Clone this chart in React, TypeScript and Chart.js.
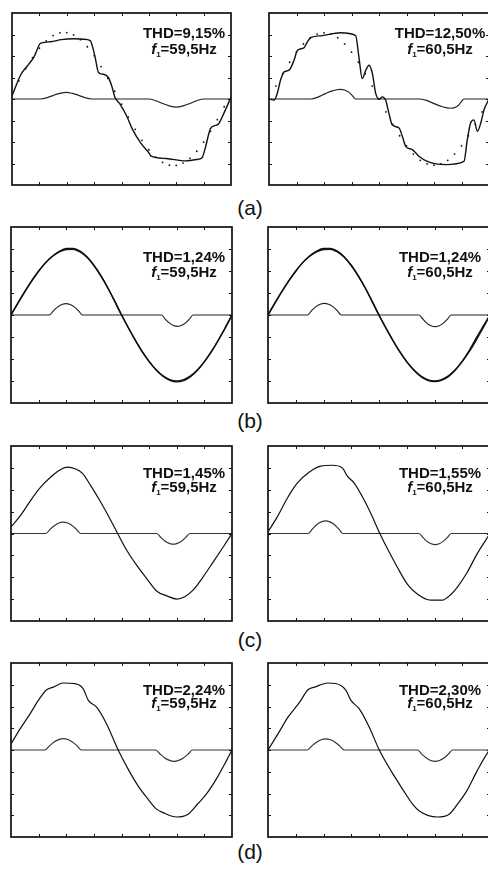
import React, { useEffect, useRef } from "react";
import { Chart, registerables } from "chart.js";
Chart.register(...registerables);

// ---------- data ----------
const X_GRID = [0, 0.25, 0.5, 0.75, 1, 1.25, 1.5, 1.75, 2, 2.25, 2.5, 2.75, 3, 3.25, 3.5, 3.75, 4, 4.25, 4.5, 4.75, 5, 5.25, 5.5, 5.75, 6, 6.25, 6.5, 6.75, 7, 7.25, 7.5, 7.75, 8];
const X_TICKS = [1, 2, 3, 4, 5, 6, 7];
const Y_TICKS = [-3, -2, -1, 0, 1, 2, 3];

const ROW_LABELS = ["(a)", "(b)", "(c)", "(d)"];
const THD_TEXT = ["THD=9,15%", "THD=12,50%", "THD=1,24%", "THD=1,24%", "THD=1,45%", "THD=1,55%", "THD=2,24%", "THD=2,30%"];
const FREQ_TEXT = ["=59,5Hz", "=60,5Hz", "=59,5Hz", "=60,5Hz", "=59,5Hz", "=60,5Hz", "=59,5Hz", "=60,5Hz"];

// (a) reference (dotted)
const A_LEFT_REF_Y = [0.24, 0.84, 1.41, 1.92, 2.36, 2.7, 2.95, 3.08, 3.09, 2.98, 2.76, 2.43, 2.01, 1.51, 0.96, 0.36, -0.24, -0.84, -1.41, -1.92, -2.36, -2.7, -2.95, -3.08, -3.09, -2.98, -2.76, -2.43, -2.01, -1.51, -0.96, -0.36, 0.24];
const A_RIGHT_REF_Y = [0, 0.6, 1.18, 1.71, 2.18, 2.56, 2.85, 3.02, 3.08, 3.02, 2.85, 2.56, 2.18, 1.71, 1.18, 0.6, 0, -0.6, -1.18, -1.71, -2.18, -2.56, -2.85, -3.02, -3.08, -3.02, -2.85, -2.56, -2.18, -1.71, -1.18, -0.6, 0];
// (a) measured
const A_LEFT_MEAS_X = [0, 0.33, 0.6, 0.8, 1.05, 1.41, 1.8, 2.25, 2.6, 2.86, 2.95, 3.04, 3.16, 3.34, 3.52, 3.64, 3.76, 3.94, 4.18, 4.42, 4.72, 5.02, 5.08, 5.63, 6.35, 6.8, 6.95, 7.07, 7.25, 7.43, 7.55, 7.73, 8];
const A_LEFT_MEAS_Y = [0.15, 1.15, 1.6, 1.95, 2.6, 2.66, 2.76, 2.8, 2.78, 2.72, 2.4, 1.92, 1.23, 1.15, 1.0, 0.62, 0.08, -0.23, -0.77, -1.46, -2.08, -2.54, -2.66, -2.77, -2.88, -2.8, -2.72, -2.23, -1.38, -1.23, -1.15, -0.69, 0.08];
const A_RIGHT_MEAS_X = [0, 0.18, 0.3, 0.42, 0.55, 0.73, 0.91, 1.03, 1.27, 1.39, 1.52, 1.94, 2.6, 3.15, 3.27, 3.39, 3.52, 3.64, 3.76, 3.88, 4.0, 4.12, 4.24, 4.36, 4.48, 4.73, 4.85, 4.97, 5.21, 5.45, 5.76, 6.42, 7.09, 7.21, 7.33, 7.45, 7.58, 7.7, 7.82, 8];
const A_RIGHT_MEAS_Y = [0, -0.05, 0.26, 0.88, 1.26, 1.34, 1.8, 2.26, 2.38, 2.65, 2.85, 2.95, 3.08, 2.95, 1.95, 0.95, 1.34, 1.57, 1.18, 0.26, 0, 0.1, -0.05, -0.66, -1.2, -1.35, -1.74, -2.2, -2.35, -2.66, -2.9, -3.05, -2.9, -1.9, -1.12, -0.97, -1.5, -1.12, -0.5, 0];

// (b)
const B_REF_Y = [0, 0.55, 1.07, 1.56, 2.0, 2.38, 2.67, 2.87, 2.98, 2.99, 2.87, 2.62, 2.25, 1.78, 1.24, 0.63, 0, -0.59, -1.15, -1.67, -2.12, -2.49, -2.77, -2.94, -3.0, -2.94, -2.77, -2.49, -2.12, -1.67, -1.15, -0.59, 0];
const B_LEFT_MEAS_Y = [0, 0.53, 1.05, 1.54, 1.98, 2.37, 2.67, 2.89, 3.02, 3.03, 2.91, 2.65, 2.27, 1.8, 1.25, 0.64, 0.01, -0.58, -1.14, -1.66, -2.11, -2.49, -2.78, -2.97, -3.04, -2.98, -2.8, -2.51, -2.13, -1.68, -1.16, -0.6, 0];
const B_RIGHT_MEAS_Y = [0, 0.54, 1.06, 1.55, 1.99, 2.38, 2.68, 2.9, 3.02, 3.02, 2.9, 2.64, 2.26, 1.79, 1.24, 0.62, -0.01, -0.6, -1.16, -1.68, -2.13, -2.5, -2.79, -2.97, -3.03, -2.97, -2.8, -2.5, -2.1, -1.62, -1.05, -0.52, 0];

// (c)
const C_LEFT_MEAS_X = [0, 0.36, 0.72, 1.08, 1.44, 1.74, 2.04, 2.34, 2.58, 2.88, 3.24, 3.6, 3.86, 4.2, 4.56, 4.92, 5.28, 5.64, 6.0, 6.29, 6.59, 6.95, 7.31, 7.67, 8];
const C_LEFT_MEAS_Y = [0.3, 0.85, 1.53, 2.13, 2.58, 2.88, 3.03, 2.95, 2.76, 2.2, 1.45, 0.63, 0, -0.79, -1.47, -2.07, -2.64, -2.85, -3.0, -2.89, -2.59, -1.99, -1.32, -0.64, 0];
const C_RIGHT_MEAS_X = [0, 0.34, 0.7, 1.06, 1.48, 1.9, 2.32, 2.68, 2.86, 3.1, 3.46, 3.76, 4.0, 4.3, 4.66, 5.02, 5.38, 5.86, 6.28, 6.58, 6.82, 7.18, 7.54, 8];
const C_RIGHT_MEAS_Y = [0.08, 0.77, 1.62, 2.31, 2.8, 3.08, 3.12, 3.0, 2.62, 2.31, 1.54, 0.77, 0.08, -0.69, -1.54, -2.31, -2.77, -3.05, -3.05, -2.8, -2.46, -1.77, -0.92, 0];

// (d)
const D_LEFT_MEAS_X = [0, 0.33, 0.69, 0.99, 1.29, 1.53, 1.89, 2.31, 2.61, 2.8, 3.1, 3.46, 3.88, 4.24, 4.6, 4.96, 5.27, 5.51, 5.99, 6.41, 6.77, 7.07, 7.43, 7.8, 8];
const D_LEFT_MEAS_Y = [0.28, 0.97, 1.66, 2.28, 2.77, 2.89, 3.08, 3.05, 2.82, 2.28, 1.97, 1.2, 0, -0.88, -1.65, -2.26, -2.72, -2.88, -3.08, -2.95, -2.46, -2.03, -1.34, -0.49, 0];
const D_RIGHT_MEAS_X = [0, 0.36, 0.72, 1.14, 1.44, 1.68, 2.16, 2.63, 2.81, 2.99, 3.29, 3.65, 4.01, 4.43, 4.85, 5.21, 5.45, 6.11, 6.53, 6.83, 7.13, 7.54, 7.93, 8];
const D_RIGHT_MEAS_Y = [0, 0.74, 1.51, 2.2, 2.77, 2.89, 3.08, 2.97, 2.74, 2.28, 1.89, 1.05, 0, -0.95, -1.8, -2.49, -2.8, -3.08, -2.95, -2.49, -1.95, -0.95, -0.1, 0];

// compensation current bumps
const A_LEFT_BUMP_X = [0, 1.05, 1.28, 1.51, 1.74, 1.98, 2.21, 2.44, 2.67, 2.9, 5.0, 5.25, 5.5, 5.75, 6.0, 6.25, 6.5, 6.75, 7.0, 8];
const A_LEFT_BUMP_Y = [0, 0, 0.06, 0.17, 0.26, 0.31, 0.26, 0.17, 0.06, 0, 0, -0.08, -0.21, -0.32, -0.38, -0.32, -0.21, -0.08, 0, 0];
const A_RIGHT_BUMP_X = [0, 1.52, 1.8, 2.05, 2.3, 2.6, 2.75, 2.9, 3.02, 3.15, 5.5, 5.8, 6.05, 6.3, 6.6, 6.75, 6.88, 6.98, 7.09, 8];
const A_RIGHT_BUMP_Y = [0, 0, 0.1, 0.25, 0.38, 0.45, 0.42, 0.32, 0.17, 0, 0, -0.1, -0.24, -0.36, -0.43, -0.4, -0.3, -0.15, 0, 0];
const B_LEFT_BUMP_X = [0, 1.39, 1.54, 1.69, 1.84, 1.99, 2.14, 2.29, 2.44, 2.59, 5.45, 5.59, 5.74, 5.88, 6.02, 6.16, 6.31, 6.45, 6.59, 8];
const B_LEFT_BUMP_Y = [0, 0, 0.2, 0.37, 0.48, 0.52, 0.48, 0.37, 0.2, 0, 0, -0.2, -0.37, -0.48, -0.52, -0.48, -0.37, -0.2, 0, 0];
const B_RIGHT_BUMP_X = [0, 1.42, 1.57, 1.73, 1.88, 2.03, 2.18, 2.34, 2.49, 2.64, 5.44, 5.59, 5.73, 5.88, 6.02, 6.17, 6.31, 6.46, 6.6, 8];
const B_RIGHT_BUMP_Y = [0, 0, 0.2, 0.38, 0.49, 0.53, 0.49, 0.38, 0.2, 0, 0, -0.2, -0.38, -0.49, -0.53, -0.49, -0.38, -0.2, 0, 0];
const C_LEFT_BUMP_X = [0, 1.26, 1.42, 1.58, 1.73, 1.89, 2.05, 2.21, 2.36, 2.52, 5.28, 5.43, 5.58, 5.73, 5.88, 6.02, 6.17, 6.32, 6.47, 8];
const C_LEFT_BUMP_Y = [0, 0, 0.2, 0.37, 0.48, 0.52, 0.48, 0.37, 0.2, 0, 0, -0.19, -0.35, -0.45, -0.49, -0.45, -0.35, -0.19, 0, 0];
const C_RIGHT_BUMP_X = [0, 1.45, 1.61, 1.76, 1.92, 2.08, 2.23, 2.39, 2.54, 2.7, 5.44, 5.59, 5.73, 5.88, 6.02, 6.17, 6.31, 6.46, 6.6, 8];
const C_RIGHT_BUMP_Y = [0, 0, 0.22, 0.41, 0.53, 0.58, 0.53, 0.41, 0.22, 0, 0, -0.19, -0.36, -0.47, -0.51, -0.47, -0.36, -0.19, 0, 0];
const D_LEFT_BUMP_X = [0, 1.23, 1.4, 1.56, 1.73, 1.89, 2.06, 2.22, 2.39, 2.55, 5.24, 5.41, 5.57, 5.74, 5.9, 6.07, 6.24, 6.4, 6.57, 8];
const D_LEFT_BUMP_Y = [0, 0, 0.2, 0.37, 0.48, 0.52, 0.48, 0.37, 0.2, 0, 0, -0.2, -0.37, -0.48, -0.52, -0.48, -0.37, -0.2, 0, 0];
const D_RIGHT_BUMP_X = [0, 1.41, 1.58, 1.75, 1.91, 2.08, 2.25, 2.42, 2.58, 2.75, 5.39, 5.55, 5.71, 5.86, 6.02, 6.18, 6.34, 6.49, 6.65, 8];
const D_RIGHT_BUMP_Y = [0, 0, 0.19, 0.36, 0.47, 0.51, 0.47, 0.36, 0.19, 0, 0, -0.2, -0.37, -0.48, -0.52, -0.48, -0.37, -0.2, 0, 0];

// ---------- layout ----------
const PAD = 3;
const COL_X = [11, 268];
const COL_W = [221, 222];
const ROW_Y = [12, 227, 446, 663];
const ROW_H = [174, 176, 175, 174];
const TEXT_CX = [184, 440];
const TEXT_L1 = [33, 257, 473, 690];
const TEXT_L2 = [49, 272, 487, 703];
const LABEL_Y = [208, 421, 640, 852];

const pts = (xs: number[], ys: number[]) => xs.map((x, i) => ({ x, y: ys[i] }));
const lineDs = (xs: number[], ys: number[], w: number, color = "#111") => ({
  data: pts(xs, ys),
  borderColor: color,
  borderWidth: w,
  pointRadius: 0,
  cubicInterpolationMode: "monotone",
  fill: false,
});
const dotDs = (xs: number[], ys: number[]) => ({
  data: pts(xs, ys),
  showLine: false,
  pointRadius: 0.9,
  pointBorderWidth: 0,
  pointBackgroundColor: "#111",
});

const PANEL_DATA = [
  [lineDs(A_LEFT_MEAS_X, A_LEFT_MEAS_Y, 1.4), lineDs(A_LEFT_BUMP_X, A_LEFT_BUMP_Y, 1.2, "#222"), dotDs(X_GRID, A_LEFT_REF_Y)],
  [lineDs(A_RIGHT_MEAS_X, A_RIGHT_MEAS_Y, 1.4), lineDs(A_RIGHT_BUMP_X, A_RIGHT_BUMP_Y, 1.2, "#222"), dotDs(X_GRID, A_RIGHT_REF_Y)],
  [lineDs(X_GRID, B_LEFT_MEAS_Y, 1.4), lineDs(X_GRID, B_REF_Y, 1.4), lineDs(B_LEFT_BUMP_X, B_LEFT_BUMP_Y, 1.2, "#222")],
  [lineDs(X_GRID, B_RIGHT_MEAS_Y, 1.4), lineDs(X_GRID, B_REF_Y, 1.4), lineDs(B_RIGHT_BUMP_X, B_RIGHT_BUMP_Y, 1.2, "#222")],
  [lineDs(C_LEFT_MEAS_X, C_LEFT_MEAS_Y, 1.2), lineDs(C_LEFT_BUMP_X, C_LEFT_BUMP_Y, 1.2, "#333")],
  [lineDs(C_RIGHT_MEAS_X, C_RIGHT_MEAS_Y, 1.2), lineDs(C_RIGHT_BUMP_X, C_RIGHT_BUMP_Y, 1.2, "#333")],
  [lineDs(D_LEFT_MEAS_X, D_LEFT_MEAS_Y, 1.2), lineDs(D_LEFT_BUMP_X, D_LEFT_BUMP_Y, 1.2, "#333")],
  [lineDs(D_RIGHT_MEAS_X, D_RIGHT_MEAS_Y, 1.2), lineDs(D_RIGHT_BUMP_X, D_RIGHT_BUMP_Y, 1.2, "#333")],
];

const framePlugin = {
  id: "frameTicks",
  afterDraw(chart: any) {
    const { ctx, chartArea, scales } = chart;
    const { left, right, top, bottom } = chartArea;
    const xs = scales.x;
    const ys = scales.y;
    ctx.save();
    ctx.strokeStyle = "#111";
    ctx.lineWidth = 1.7;
    ctx.strokeRect(left, top, right - left, bottom - top);
    ctx.lineWidth = 1;
    ctx.beginPath();
    for (const v of X_TICKS) {
      const px = Math.round(xs.getPixelForValue(v)) + 0.5;
      ctx.moveTo(px, bottom);
      ctx.lineTo(px, bottom - 3);
      ctx.moveTo(px, top);
      ctx.lineTo(px, top + 3);
    }
    for (const v of Y_TICKS) {
      const py = Math.round(ys.getPixelForValue(v)) + 0.5;
      ctx.moveTo(left, py);
      ctx.lineTo(left + 3, py);
      ctx.moveTo(right, py);
      ctx.lineTo(right - 3, py);
    }
    ctx.stroke();
    ctx.restore();
  },
};

function Panel({ x, y, w, h, datasets }: any) {
  const ref = useRef<HTMLCanvasElement>(null);
  useEffect(() => {
    const chart = new Chart(ref.current as HTMLCanvasElement, {
      type: "line",
      data: { datasets },
      options: {
        animation: false,
        responsive: false,
        maintainAspectRatio: false,
        events: [],
        layout: { padding: PAD },
        plugins: { legend: { display: false }, tooltip: { enabled: false } },
        scales: {
          x: { type: "linear", min: 0, max: 8, display: false },
          y: { type: "linear", min: -4, max: 4, display: false },
        },
      },
      plugins: [framePlugin],
    } as any);
    return () => chart.destroy();
  }, []);
  return (
    <canvas
      ref={ref}
      width={w + 2 * PAD}
      height={h + 2 * PAD}
      style={{ position: "absolute", left: x - PAD, top: y - PAD, width: w + 2 * PAD, height: h + 2 * PAD }}
    />
  );
}

const FONT = '"Liberation Sans", Arial, Helvetica, sans-serif';

export default function App() {
  const panels: any[] = [];
  for (let r = 0; r < 4; r++) {
    for (let c = 0; c < 2; c++) {
      const i = r * 2 + c;
      panels.push(
        <Panel key={"p" + i} x={COL_X[c]} y={ROW_Y[r]} w={COL_W[c]} h={ROW_H[r]} datasets={PANEL_DATA[i]} />
      );
      panels.push(
        <div
          key={"t1" + i}
          style={{ position: "absolute", left: TEXT_CX[c] - 70, width: 140, top: TEXT_L1[r] - 9, height: 18, lineHeight: "18px", textAlign: "center", fontFamily: FONT, fontWeight: "bold", fontSize: 15, color: "#111", whiteSpace: "nowrap" }}
        >
          {THD_TEXT[i]}
        </div>
      );
      panels.push(
        <div
          key={"t2" + i}
          style={{ position: "absolute", left: TEXT_CX[c] - 70, width: 140, top: TEXT_L2[r] - 9, height: 18, lineHeight: "18px", textAlign: "center", fontFamily: FONT, fontWeight: "bold", fontSize: 15, color: "#111", whiteSpace: "nowrap" }}
        >
          <span style={{ fontStyle: "italic" }}>f</span>
          <span style={{ fontSize: 8, position: "relative", top: 3 }}>1</span>
          {FREQ_TEXT[i]}
        </div>
      );
    }
    panels.push(
      <div
        key={"l" + r}
        style={{ position: "absolute", left: 200, width: 100, top: LABEL_Y[r] - 12, height: 24, lineHeight: "24px", textAlign: "center", fontFamily: FONT, fontSize: 21, color: "#111" }}
      >
        {ROW_LABELS[r]}
      </div>
    );
  }
  return (
    <div style={{ position: "fixed", left: 0, top: 0, width: 488, height: 869, overflow: "hidden", background: "#fff" }}>
      {panels}
    </div>
  );
}
